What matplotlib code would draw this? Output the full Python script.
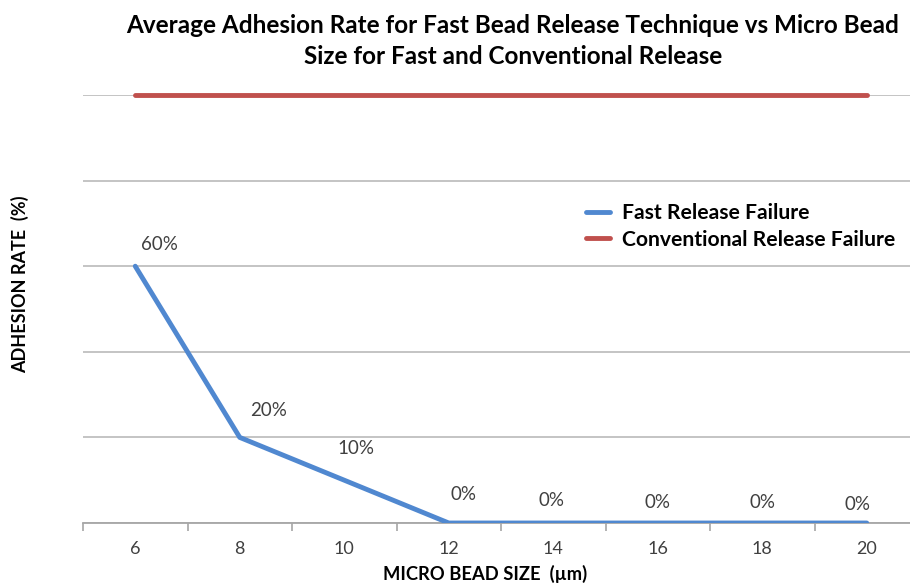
import matplotlib.pyplot as plt
import numpy as np

plt.rcParams['font.family'] = ['Lato', 'DejaVu Sans']

bead_sizes = ['6', '8', '10', '12', '14', '16', '18', '20']
fast_failure = [60, 20, 10, 0, 0, 0, 0, 0]
conventional_failure = [100, 100, 100, 100, 100, 100, 100, 100]

# label offsets (pixels) for the fast-release value labels
label_offsets = [(24, 22), (29, 27), (12, 32), (15, 28), (-2, 23), (0, 21), (0, 20), (-9, 18)]

fig = plt.figure(figsize=(9.1, 5.83), dpi=100)
ax = fig.add_axes([83 / 910, 1 - 523 / 583, 836 / 910, (523 - 95) / 583])

x = np.arange(len(bead_sizes))
ax.plot(x, fast_failure, color='#5088D0', lw=3.5, solid_capstyle='round',
        label='Fast Release Failure', zorder=3)
ax.plot(x, conventional_failure, color='#C0504D', lw=3.5, solid_capstyle='round',
        label='Conventional Release Failure', zorder=3, clip_on=False)

for xi, v, (dx, dy) in zip(x, fast_failure, label_offsets):
    ax.annotate(f'{v}%', (xi, v), xytext=(dx * 0.72, dy * 0.72), textcoords='offset points',
                ha='center', va='center', fontsize=13.5, color='#404040')

ax.set_xlim(-0.5, len(bead_sizes) - 0.5)
ax.set_ylim(0, 100)
ax.set_yticks([0, 20, 40, 60, 80, 100])
ax.set_yticklabels([])
ax.tick_params(axis='y', length=0)
ax.yaxis.grid(True, color='#BFBFBF', lw=1.3)
ax.set_axisbelow(True)

ax.set_xticks(x)
ax.set_xticklabels(bead_sizes, fontsize=13, color='#404040')
ax.set_xticks(np.arange(-0.5, len(bead_sizes)), minor=True)
ax.tick_params(axis='x', which='major', length=0, pad=13)
ax.tick_params(axis='x', which='minor', length=6, color='#A6A6A6', width=1.2)

for side in ['top', 'right', 'left']:
    ax.spines[side].set_visible(False)
ax.spines['bottom'].set_color('#A6A6A6')
ax.spines['bottom'].set_linewidth(1.3)

ax.legend(loc='upper left', bbox_to_anchor=(495 / 836, (523 - 195) / 428), frameon=False,
          prop={'weight': 'bold', 'size': 15.2}, handlelength=1.1, handletextpad=0.6,
          labelspacing=0.3, borderaxespad=0)

fig.text(513 / 910, 1 - 41 / 583,
         'Average Adhesion Rate for Fast Bead Release Technique vs Micro Bead\nSize for Fast and Conventional Release',
         ha='center', va='center', fontsize=17.5, fontweight='bold', linespacing=1.45)
fig.text(20 / 910, 1 - 284 / 583, 'ADHESION RATE  (%)', rotation=90, ha='center', va='center',
         fontsize=13, fontweight='bold')
fig.text(485 / 910, 1 - 574 / 583, 'MICRO BEAD SIZE  (\u00b5m)', ha='center', va='center',
         fontsize=13.2, fontweight='bold')

fig.savefig('out.png', dpi=100)
